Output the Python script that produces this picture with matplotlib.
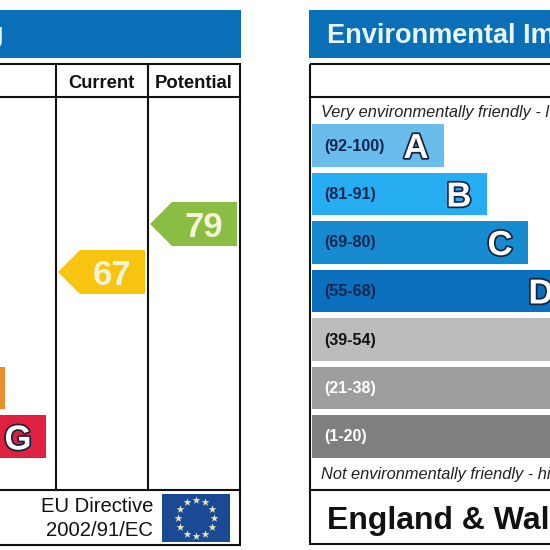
import matplotlib
matplotlib.use('Agg')
import matplotlib.pyplot as plt
import matplotlib.patheffects as pe
from matplotlib.patches import Rectangle, Polygon
import numpy as np

plt.rcParams['font.family'] = ['Liberation Sans', 'DejaVu Sans']

# data
env_ranges = ['(92-100)', '(81-91)', '(69-80)', '(55-68)', '(39-54)', '(21-38)', '(1-20)']
env_letters = ['A', 'B', 'C', 'D', '', '', '']  # E F G sit past the crop
env_lengths = [132, 175, 216, 257, 300, 343, 386]
env_colors = ['#6abcec', '#27aef2', '#168bd0', '#0a6fbd', '#bcbcbc', '#9e9e9e', '#7f7f7f']
range_colors = ['#10254f', '#10254f', '#10254f', '#10254f', '#111111', 'white', 'white']

eer_letters = ['', 'G']
eer_lengths = [345, 386]
eer_colors = ['#ee8b2c', '#e0203f']

current_score = 67
potential_score = 79

W = 550
fig = plt.figure(figsize=(5.5, 5.5), dpi=100)
ax = fig.add_axes([0, 0, 1, 1])
ax.set_xlim(0, W)
ax.set_ylim(W, 0)
ax.axis('off')

BLUE = '#0b6fb8'
LW = 1.5


def row_top(i):
    return 124 + i * 48.5


def score_y(score):
    return 224 + (79 - score) * 4


def arrow(score, x_tip, x_right, color):
    y = score_y(score)
    pts = [(x_tip, y), (x_tip + 22, y - 22), (x_right, y - 22), (x_right, y + 22), (x_tip + 22, y + 22)]
    ax.add_patch(Polygon(pts, closed=True, fc=color, ec='none', zorder=3))
    ax.text((x_tip + 22 + x_right) / 2 - 1, y, str(score), ha='center', va='center_baseline',
            fontsize=25, fontweight='bold', color='#f3f4d4', zorder=4)


def letter(x, y, s):
    if not s:
        return
    t = ax.text(x, y, s, ha='center', va='center_baseline', fontsize=25, fontweight='bold',
                color='white', zorder=4)
    t.set_path_effects([pe.withStroke(linewidth=2.5, foreground='#14233f')])


def box(x0, x1, y0, y1):
    ax.add_patch(Rectangle((x0, y0), x1 - x0, y1 - y0, fc='none', ec='#111111', lw=LW, zorder=5))


# left chart
ax.add_patch(Rectangle((-10, 10), 251, 48, fc=BLUE, ec='none'))
ax.text(4, 32.5, 'g', ha='right', va='center_baseline', fontsize=19.5,
        fontweight='bold', color='#e8f6ff')
box(-10, 240, 64, 545)
ax.plot([-10, 240], [97, 97], color='#111111', lw=LW)
ax.plot([-10, 240], [490, 490], color='#111111', lw=LW)
ax.plot([55.5, 55.5], [64, 490], color='#111111', lw=LW)
ax.plot([147.5, 147.5], [64, 490], color='#111111', lw=LW)
ax.text(101.5, 81, 'Current', ha='center', va='center_baseline', fontsize=13.2, fontweight='bold', color='#111111')
ax.text(193.5, 81, 'Potential', ha='center', va='center_baseline', fontsize=13.3, fontweight='bold', color='#111111')

for i, (ln, col, s) in enumerate(zip(eer_lengths, eer_colors, eer_letters)):
    y0 = row_top(5 + i)
    ax.add_patch(Rectangle((-340, y0), ln, 42.5, fc=col, ec='none', zorder=2))
    letter(-340 + ln - 28, y0 + 21.5, s)

arrow(current_score, 58, 145, '#f7c50f')
arrow(potential_score, 150, 237, '#8bbc44')

ax.text(153, 505, 'EU Directive', ha='right', va='center_baseline', fontsize=14.6, color='#111111')
ax.text(153, 528, '2002/91/EC', ha='right', va='center_baseline', fontsize=14.6, color='#111111')
ax.add_patch(Rectangle((162, 494), 68, 48, fc='#1b4a94', ec='none'))
ang = np.arange(12) * 2 * np.pi / 12
ax.scatter(196 + 18 * np.sin(ang), 518 + 18 * np.cos(ang), marker='*', s=36, color='#e6e8c0', lw=0, zorder=4)

# right chart
ax.add_patch(Rectangle((309, 10), 251, 48, fc=BLUE, ec='none'))
ax.text(327, 33, 'Environmental Im', ha='left', va='center_baseline', fontsize=19.5,
        fontweight='bold', color='#e8f6ff')
box(310, 560, 64, 544)
ax.plot([310, 560], [97, 97], color='#111111', lw=LW)
ax.plot([310, 560], [490, 490], color='#111111', lw=LW)

ax.text(321, 111, 'Very environmentally friendly - l', ha='left', va='center_baseline',
        fontsize=11.8, style='italic', color='#222222')
ax.text(321, 473, 'Not environmentally friendly - hi', ha='left', va='center_baseline',
        fontsize=11.8, style='italic', color='#222222')

for i in range(len(env_ranges)):
    y0 = row_top(i)
    ax.add_patch(Rectangle((312, y0), env_lengths[i], 42.5, fc=env_colors[i], ec='none', zorder=2))
    ax.text(324, y0 + 20.5, env_ranges[i], ha='left', va='center_baseline', fontsize=11.6, fontweight='bold',
            color=range_colors[i], zorder=4)
    letter(312 + env_lengths[i] - 28, y0 + 21, env_letters[i])

ax.text(327, 517, 'England & Wal', ha='left', va='center_baseline', fontsize=23, fontweight='bold', color='#111111')

fig.savefig('out.png', dpi=100)
